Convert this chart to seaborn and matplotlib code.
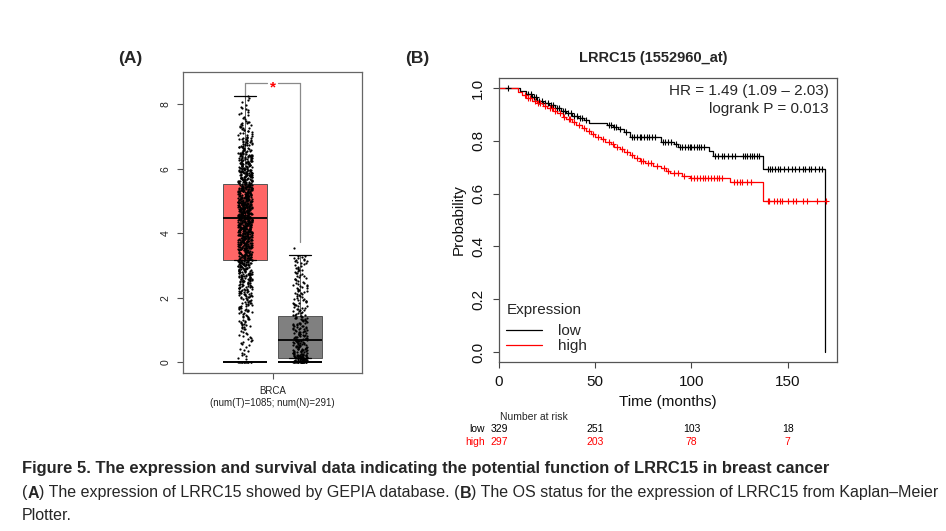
import numpy as np
import pandas as pd
import matplotlib
matplotlib.use("Agg")
import matplotlib.pyplot as plt
import matplotlib.transforms as mtrans
from matplotlib.lines import Line2D
from matplotlib import font_manager
import seaborn as sns

# ======================= DATA =======================
# ---- Panel A: GEPIA box plot (log2(TPM+1)) ----
box_groups = ["Tumor", "Normal"]
box_colors = ["#FF6666", "#808080"]
box_q1 = [3.16, 0.12]
box_med = [4.47, 0.68]
box_q3 = [5.52, 1.43]
box_whislo = [0.0, 0.0]
box_whishi = [8.25, 3.32]
yticks_A = [0, 2, 4, 6, 8]
xlabel_A = "BRCA\n(num(T)=1085; num(N)=291)"
sig_bracket_y = [8.65, 8.19, 3.72]   # top, tumor end, normal end
sig_label = "*"

# histogram of points (bin low, bin high, count)
tumor_bin_lo = [0.0, 0.05, 0.5, 1.0, 1.5, 2.0, 2.5, 3.0, 3.5, 4.0, 4.5, 5.0, 5.5, 6.0, 6.5, 7.0, 7.5, 8.0]
tumor_bin_hi = [0.0, 0.5, 1.0, 1.5, 2.0, 2.5, 3.0, 3.5, 4.0, 4.5, 5.0, 5.5, 6.0, 6.5, 7.0, 7.5, 8.0, 8.3]
tumor_bin_n = [15, 10, 15, 25, 35, 50, 70, 95, 120, 142, 140, 120, 95, 70, 42, 25, 12, 4]
normal_bin_lo = [0.0, 0.02, 0.25, 0.5, 0.75, 1.0, 1.25, 1.5, 2.0, 2.5, 3.0, 3.55]
normal_bin_hi = [0.0, 0.25, 0.5, 0.75, 1.0, 1.25, 1.5, 2.0, 2.5, 3.0, 3.32, 3.55]
normal_bin_n = [25, 55, 30, 28, 25, 20, 18, 28, 25, 21, 15, 1]

# ---- Panel B: Kaplan-Meier ----
km_title = "LRRC15 (1552960_at)"
low_time = [0, 11, 14, 17, 20, 23, 26, 29, 32, 35, 38, 41, 44, 47, 56, 59, 62, 65, 68,
            84, 91, 93, 109, 111, 137, 169.5]
low_surv = [1.0, 0.99, 0.978, 0.965, 0.952, 0.944, 0.935, 0.924, 0.914, 0.904, 0.894, 0.887,
            0.879, 0.869, 0.86, 0.852, 0.843, 0.835, 0.816, 0.797, 0.787, 0.775, 0.762, 0.742,
            0.692, 0.0]
low_cens = [4.7, 15, 16.5, 18, 19, 21, 22.5, 24, 25.5, 27, 28, 30, 31, 33, 34.5, 36, 37.5, 39,
            40.5, 42, 43, 45, 57, 58, 60, 61, 63, 66, 69, 70, 71.5, 73, 74, 75.5, 77, 78, 79.5,
            81, 85, 86, 88, 89.5, 92, 94, 95, 96.5, 98, 99, 100, 101.5, 103, 104, 105, 106.5,
            112, 114, 116, 117, 119, 121, 122.5, 127, 128, 129, 130.5, 131.5, 132.5, 134, 135,
            140, 141, 142, 143.5, 145, 146, 148, 150, 152, 154, 156, 158, 159, 161, 162, 164,
            166, 168]
high_time = [0, 10, 12, 14, 17, 20, 23, 25, 28, 30, 33, 35, 38, 40, 43, 45, 48, 50, 53, 55,
             58, 60, 63, 65, 68, 70, 73, 76, 80, 84, 87, 89, 95, 99, 120, 137, 170.2]
high_surv = [1.0, 0.985, 0.975, 0.962, 0.952, 0.942, 0.932, 0.923, 0.913, 0.904, 0.892, 0.881,
             0.870, 0.860, 0.848, 0.837, 0.826, 0.816, 0.806, 0.797, 0.787, 0.778, 0.768, 0.759,
             0.745, 0.735, 0.725, 0.715, 0.705, 0.696, 0.686, 0.677, 0.667, 0.658, 0.643, 0.572,
             0.572]
high_cens = [13.5, 15, 16, 18.5, 20.5, 21.5, 24, 26.5, 27.5, 29, 31.5, 34, 36.5, 37, 39, 41.5,
             44, 46.5, 49, 51.5, 54, 57, 59, 61.5, 64, 66.5, 69, 71.5, 74, 75, 77.5, 79, 82, 85.5,
             88, 91, 93, 96, 100, 101.5, 103, 104.5, 106, 107, 108.5, 110, 111.5, 113, 114.5,
             116, 122, 123.5, 125, 126.5, 129, 131, 139.5, 140.5, 143, 144.5, 146, 147, 150, 153,
             154.5, 158, 160, 165, 170]
km_groups = ["low", "high"]
km_colors = ["black", "red"]
xticks_B = [0, 50, 100, 150]
yticks_B = [0.0, 0.2, 0.4, 0.6, 0.8, 1.0]
risk_times = [0, 50, 100, 150]
risk_low = [329, 251, 103, 18]
risk_high = [297, 203, 78, 7]
hr_lines = ["HR = 1.49 (1.09 \u2013 2.03)", "logrank P = 0.013"]

caption_title = "Figure 5. The expression and survival data indicating the potential function of LRRC15 in breast cancer"
caption_runs = [("(", "normal"), ("A", "bold"), (") The expression of LRRC15 showed by GEPIA database. (", "normal"),
                ("B", "bold"), (") The OS status for the expression of LRRC15 from Kaplan\u2013Meier", "normal")]
caption_last = "Plotter."

# ======================= STYLE =======================
sns.set_style("white")
plt.rcParams["font.family"] = ["Liberation Sans", "DejaVu Sans"]
plt.rcParams["axes.linewidth"] = 0.9

W, H = 946, 531
fig = plt.figure(figsize=(W / 100, H / 100), dpi=100)
fig.patch.set_facecolor("white")


def fx(px):
    return px / W


def fy(py):
    return 1 - py / H


# ======================= PANEL A =======================
axA = fig.add_axes([fx(183), fy(373), fx(362) - fx(183), fy(72) - fy(373)])


def expand(lo, hi, n):
    vals = []
    for a, b, k in zip(lo, hi, n):
        if a == b:
            vals.extend([a] * k)
        else:
            vals.extend(list(np.linspace(a, b, k + 2)[1:-1]))
    return vals


tumor_vals = expand(tumor_bin_lo, tumor_bin_hi, tumor_bin_n)
normal_vals = expand(normal_bin_lo, normal_bin_hi, normal_bin_n)
dfA = pd.DataFrame({
    "group": [box_groups[0]] * len(tumor_vals) + [box_groups[1]] * len(normal_vals),
    "expr": tumor_vals + normal_vals,
})

np.random.seed(3)
sns.stripplot(data=dfA, x="group", y="expr", order=box_groups, jitter=0.13, size=1.6,
              color="black", linewidth=0, ax=axA, zorder=4)

stats = []
for i in range(2):
    stats.append(dict(med=box_med[i], q1=box_q1[i], q3=box_q3[i],
                      whislo=box_q1[i], whishi=box_whishi[i], fliers=[]))
bp = axA.bxp(stats, positions=[0, 1], widths=0.8, patch_artist=True, showfliers=False,
             capwidths=0.4,
             boxprops=dict(edgecolor="#555555", linewidth=0.7),
             medianprops=dict(color="black", linewidth=1.3),
             whiskerprops=dict(color="#444444", linewidth=0.6),
             capprops=dict(color="black", linewidth=0.9),
             manage_ticks=False, zorder=2)
for patch, c in zip(bp["boxes"], box_colors):
    patch.set_facecolor(c)
# lower (zero) limit lines across the full box width
for i in range(2):
    axA.hlines(box_whislo[i], i - 0.4, i + 0.4, color="black", linewidth=1.4, zorder=3)

# significance bracket
brc = "#8a8a8a"
axA.plot([0, 0], [sig_bracket_y[1], sig_bracket_y[0]], color=brc, lw=0.9, zorder=1)
axA.plot([1, 1], [sig_bracket_y[2], sig_bracket_y[0]], color=brc, lw=0.9, zorder=1)
axA.plot([0, 0.4], [sig_bracket_y[0]] * 2, color=brc, lw=0.9, zorder=1)
axA.plot([0.6, 1], [sig_bracket_y[0]] * 2, color=brc, lw=0.9, zorder=1)
axA.text(0.5, sig_bracket_y[0] - 0.12, sig_label, color="red", ha="center", va="center",
         fontsize=11, fontweight="bold")

axA.set_xlim(-1.13, 2.13)
axA.set_ylim(-0.34, 9.0)
axA.set_yticks(yticks_A)
axA.set_yticklabels([str(v) for v in yticks_A], rotation=90, va="center", fontsize=7.5)
axA.set_xticks([0.5])
axA.set_xticklabels([xlabel_A], fontsize=7, linespacing=1.35, color="#222222")
axA.set_xlabel("")
axA.set_ylabel("")
axA.tick_params(axis="both", length=4, width=0.8, color="#555555", pad=5, labelcolor="#222222",
                left=True, bottom=True)
for s in axA.spines.values():
    s.set_color("#666666")
    s.set_linewidth(0.9)

# ======================= PANEL B =======================
axB = fig.add_axes([fx(499), fy(362), fx(837) - fx(499), fy(78) - fy(362)])

curves = [(low_time, low_surv, low_cens), (high_time, high_surv, high_cens)]
for (t, s, cens), col in zip(curves, km_colors):
    sns.lineplot(x=t, y=s, drawstyle="steps-post", color=col, linewidth=0.9,
                 estimator=None, sort=False, ax=axB)
    tt = np.asarray(t)
    ss = np.asarray(s)
    idx = np.searchsorted(tt, np.asarray(cens), side="right") - 1
    sns.scatterplot(x=cens, y=ss[idx], marker="+", s=22, color=col, linewidth=0.8, ax=axB,
                    zorder=3)

axB.set_xlim(0, 175.6)
axB.set_ylim(-0.038, 1.038)
axB.set_xticks(xticks_B)
axB.set_xticklabels([str(v) for v in xticks_B], fontsize=11)
axB.set_yticks(yticks_B)
axB.set_yticklabels([f"{v:.1f}" for v in yticks_B], rotation=90, va="center", fontsize=11)
axB.tick_params(axis="both", length=4, width=0.8, color="#444444", labelcolor="#111111",
                left=True, bottom=True)
axB.tick_params(axis="x", pad=5)
axB.tick_params(axis="y", pad=6)
axB.set_xlabel("Time (months)", fontsize=11, labelpad=5, color="#111111")
axB.set_ylabel("Probability", fontsize=11, labelpad=4, color="#111111")
for s in axB.spines.values():
    s.set_color("#555555")
    s.set_linewidth(0.9)

axB.text(0.976, 0.955, hr_lines[0], transform=axB.transAxes, ha="right", va="center", fontsize=11)
axB.text(0.976, 0.892, hr_lines[1], transform=axB.transAxes, ha="right", va="center", fontsize=11)

handles = [Line2D([0], [0], color=c, lw=0.9) for c in km_colors]
leg = axB.legend(handles, km_groups, title="Expression", loc="lower left",
                 bbox_to_anchor=(0.022, 0.03), frameon=False, fontsize=11, title_fontsize=11,
                 alignment="left", handlelength=2.3, handletextpad=1.1, labelspacing=0.1,
                 borderpad=0, borderaxespad=0)
leg._legend_box.sep = 5.0

fig.text(fx(653), fy(58), km_title, ha="center", va="center", fontsize=10.5, fontweight="bold")

# number at risk table
blend = mtrans.blended_transform_factory(axB.transData, fig.transFigure)
fig.text(fx(500), fy(417), "Number at risk", ha="left", va="center", fontsize=7.5)
fig.text(fx(485), fy(429), km_groups[0], ha="right", va="center", fontsize=7.5, color="black")
fig.text(fx(485), fy(442), km_groups[1], ha="right", va="center", fontsize=7.5, color="red")
for t, a, b in zip(risk_times, risk_low, risk_high):
    fig.text(t, fy(429), str(a), transform=blend, ha="center", va="center", fontsize=7.5, color="black")
    fig.text(t, fy(442), str(b), transform=blend, ha="center", va="center", fontsize=7.5, color="red")

# panel letters
fig.text(fx(130), fy(58), "(A)", ha="center", va="center", fontsize=12.5, fontweight="bold")
fig.text(fx(417), fy(58), "(B)", ha="center", va="center", fontsize=12.5, fontweight="bold")

# ======================= CAPTION =======================
renderer = fig.canvas.get_renderer()
try:
    font_manager.findfont(font_manager.FontProperties(family="Liberation Sans Narrow"),
                          fallback_to_default=False)
    cap_family = ["Liberation Sans Narrow", "Liberation Sans", "DejaVu Sans"]
except Exception:
    cap_family = ["Liberation Sans", "DejaVu Sans"]


def text_w(s, size, weight):
    t1 = fig.text(0, 0, "|" + s + "|", fontsize=size, fontweight=weight, family=cap_family)
    w1 = t1.get_window_extent(renderer).width
    t1.remove()
    t2 = fig.text(0, 0, "||", fontsize=size, fontweight=weight, family=cap_family)
    w2 = t2.get_window_extent(renderer).width
    t2.remove()
    return w1 - w2


# fit caption sizes to the reference line widths
size1 = 12.0 * 804.0 / text_w(caption_title, 12.0, "bold")
size2 = 12.0 * 916.0 / sum(text_w(s, 12.0, w) for s, w in caption_runs)
size1 = min(size1, 12.5)
size2 = min(size2, 12.0)

fig.text(fx(22), fy(468), caption_title, ha="left", va="center", fontsize=size1,
         fontweight="bold", family=cap_family)
xpos = 22.0
for s, w in caption_runs:
    fig.text(fx(xpos), fy(493), s, ha="left", va="center", fontsize=size2, fontweight=w,
             family=cap_family)
    xpos += text_w(s, size2, w)
fig.text(fx(22), fy(516), caption_last, ha="left", va="center", fontsize=size2, family=cap_family)

fig.savefig("out.png", dpi=100, facecolor="white")
